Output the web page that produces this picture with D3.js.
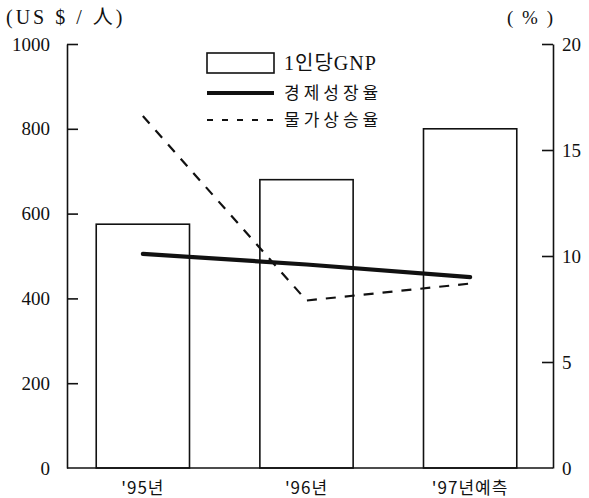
<!DOCTYPE html>
<html>
<head>
<meta charset="utf-8">
<script src="https://cdn.jsdelivr.net/npm/d3@7"></script>
<style>
  html, body { margin: 0; padding: 0; background: #fff; }
  svg { display: block; }
  text { fill: #111; }
</style>
</head>
<body>
<svg id="chart" width="589" height="498"></svg>
<script>
// Per-capita GNP (left axis, US$/person) and growth / inflation rates (right axis, %)
const categories = ["'95년", "'96년", "'97년예측"];
const gnpPerCapita = [575, 680, 800];
const growthRate = [10.1, 9.6, 9.0];
const inflationRate = [16.6, 7.9, 8.7];
const leftTicks = [0, 200, 400, 600, 800, 1000];
const rightTicks = [0, 5, 10, 15, 20];
const legendLabels = ["1인당GNP", "경제성장율", "물가상승율"];

const serif = "'Liberation Serif', 'DejaVu Serif', 'Noto Sans CJK KR', serif";
const kor = "'Noto Sans CJK KR', 'Liberation Serif', sans-serif";

const svg = d3.select("#chart");
const axisLeftX = 67, axisRightX = 553, plotTop = 44, plotBottom = 468;

const x = d3.scaleBand()
  .domain(categories)
  .range([63.5, 549.5])
  .paddingInner(0.43)
  .paddingOuter(0.2);

const yLeft = d3.scaleLinear().domain([0, 1000]).range([plotBottom, plotTop]);
const yRight = d3.scaleLinear().domain([0, 20]).range([plotBottom, plotTop]);

// Bars
svg.append("g")
  .selectAll("rect")
  .data(categories)
  .join("rect")
  .attr("x", d => x(d))
  .attr("y", (d, i) => yLeft(gnpPerCapita[i]))
  .attr("width", x.bandwidth())
  .attr("height", (d, i) => plotBottom - yLeft(gnpPerCapita[i]))
  .attr("fill", "#fff")
  .attr("stroke", "#111")
  .attr("stroke-width", 1.6);

// Lines on the right axis
const line = d3.line()
  .x((d, i) => x(categories[i]) + x.bandwidth() / 2)
  .y(d => yRight(d));

svg.append("path")
  .datum(inflationRate)
  .attr("d", line)
  .attr("fill", "none")
  .attr("stroke", "#111")
  .attr("stroke-width", 2.2)
  .attr("stroke-dasharray", "10,9");

svg.append("path")
  .datum(growthRate)
  .attr("d", line)
  .attr("fill", "none")
  .attr("stroke", "#111")
  .attr("stroke-width", 4.2)
  .attr("stroke-linecap", "round");

// Left axis
const gL = svg.append("g")
  .attr("transform", `translate(${axisLeftX},0)`)
  .call(d3.axisLeft(yLeft).tickValues(leftTicks).tickFormat(d3.format("d"))
    .tickSize(-11).tickSizeOuter(0).tickPadding(17));
gL.selectAll(".tick text").attr("font-family", serif).attr("font-size", 19);
gL.selectAll(".tick line").attr("stroke", "#111").attr("stroke-width", 1.6)
  .filter(d => d === 0).remove();
gL.select(".domain").attr("stroke", "#111").attr("stroke-width", 1.6);

// Right axis
const gR = svg.append("g")
  .attr("transform", `translate(${axisRightX},0)`)
  .call(d3.axisRight(yRight).tickValues(rightTicks).tickFormat(d3.format("d"))
    .tickSize(-11).tickSizeOuter(0).tickPadding(9));
gR.selectAll(".tick text").attr("font-family", serif).attr("font-size", 19);
gR.selectAll(".tick line").attr("stroke", "#111").attr("stroke-width", 1.6)
  .filter(d => d === 0).remove();
gR.select(".domain").attr("stroke", "#111").attr("stroke-width", 1.6);

// Baseline
svg.append("line")
  .attr("x1", axisLeftX).attr("x2", axisRightX)
  .attr("y1", plotBottom).attr("y2", plotBottom)
  .attr("stroke", "#111").attr("stroke-width", 1.6);

// Category labels
svg.append("g")
  .selectAll("text")
  .data(categories)
  .join("text")
  .attr("x", d => x(d) + x.bandwidth() / 2)
  .attr("y", 494)
  .attr("text-anchor", "middle")
  .attr("font-family", kor)
  .attr("font-size", 17)
  .attr("letter-spacing", 1)
  .text(d => d);

// Axis unit titles
svg.append("text")
  .attr("x", 6).attr("y", 24)
  .attr("font-family", serif).attr("font-size", 20)
  .attr("letter-spacing", 3)
  .text("(US $ / 人)");
svg.append("text")
  .attr("x", 507).attr("y", 24)
  .attr("font-family", serif).attr("font-size", 19)
  .attr("letter-spacing", 2)
  .text("( % )");

// Legend
const lg = svg.append("g");
const lx = 207, lw = 67;
lg.append("rect").attr("x", lx).attr("y", 53).attr("width", lw).attr("height", 20)
  .attr("fill", "#fff").attr("stroke", "#111").attr("stroke-width", 1.6);
lg.append("line").attr("x1", lx).attr("x2", lx + lw).attr("y1", 93).attr("y2", 93)
  .attr("stroke", "#111").attr("stroke-width", 4.2);
lg.append("line").attr("x1", lx).attr("x2", lx + lw).attr("y1", 120).attr("y2", 120)
  .attr("stroke", "#111").attr("stroke-width", 2.2).attr("stroke-dasharray", "6,9");
const legendY = [70, 99, 126];
lg.selectAll("text.lbl")
  .data(legendLabels)
  .join("text")
  .attr("class", "lbl")
  .attr("x", 284)
  .attr("y", (d, i) => legendY[i])
  .attr("font-family", (d, i) => i === 0 ? serif : kor)
  .attr("font-size", (d, i) => i === 0 ? 20 : 17)
  .attr("letter-spacing", (d, i) => i === 0 ? 1 : 4)
  .text(d => d);
</script>
</body>
</html>
